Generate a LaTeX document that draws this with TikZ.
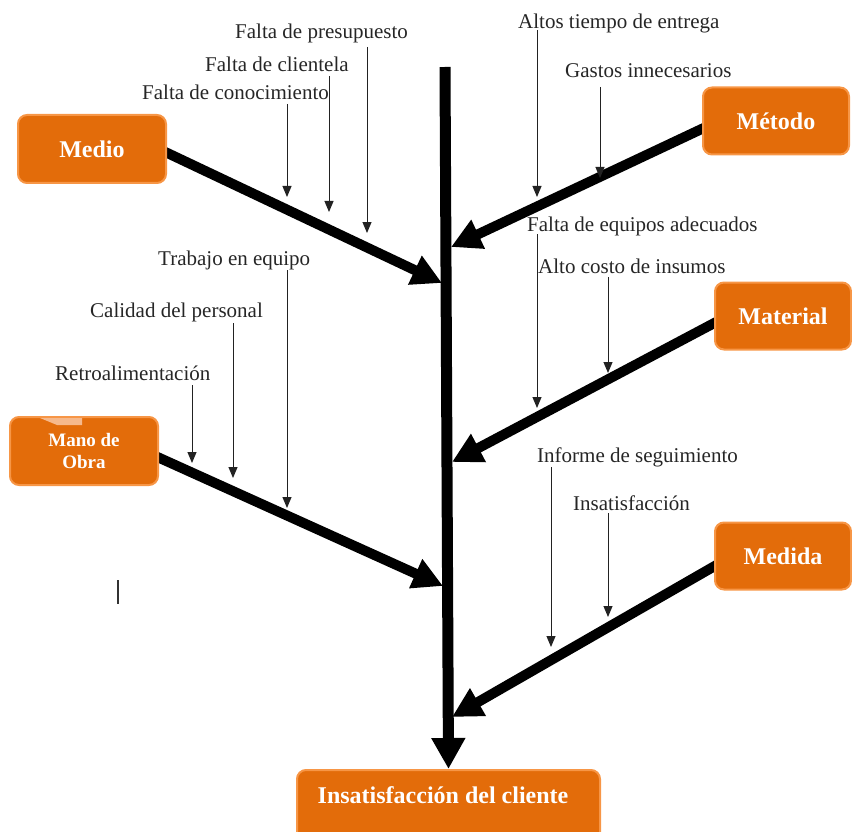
\documentclass[tikz,border=0pt]{standalone}
\usepackage{fontspec}
\setmainfont{Liberation Serif}
\usetikzlibrary{arrows.meta,calc}
\definecolor{boxfill}{HTML}{E36C0A}
\definecolor{boxrim}{HTML}{F79646}
\definecolor{tabtint}{HTML}{F6B98C}
\definecolor{thin}{HTML}{222222}
\pgfdeclarelayer{bg}
\pgfsetlayers{bg,main}
\tikzset{
  catbox/.style={draw=boxrim, line width=2pt, fill=boxfill, rounded corners=9pt,
    text=white, font=\fontsize{24}{28}\selectfont\bfseries, inner sep=0pt},
  cause/.style={anchor=base west, inner sep=0pt, font=\fontsize{21}{25}\selectfont, text=black!85},
  branch/.style={line width=10pt, -{Triangle[length=30pt,width=30pt]}},
  spine/.style={line width=11pt, -{Triangle[length=31pt,width=32pt]}},
  subarrow/.style={draw=thin, line width=1pt, -{Triangle[length=11pt,width=9pt]}}
}
\begin{document}
\begin{tikzpicture}[x=1pt,y=-1pt]
\useasboundingbox (0,0) rectangle (852,832);
\clip (0,0) rectangle (852,832);

% category boxes
\node[catbox, minimum width=148pt, minimum height=68pt] (medio) at (92,149) {Medio};
\node[catbox, minimum width=146pt, minimum height=67pt] (metodo) at (776,121) {Método};
\node[catbox, minimum width=136pt, minimum height=67pt] (material) at (783,316) {Material};
\node[catbox, minimum width=136pt, minimum height=67pt] (medida) at (783,556) {Medida};
\node[catbox, minimum width=148pt, minimum height=68pt, align=center,
      font=\fontsize{19}{22}\selectfont\bfseries] (mano) at (84,451) {Mano de\\Obra};
\fill[tabtint] (40,418) -- (82,418) -- (82,425) -- (57,425) -- cycle;

% effect box
\node[catbox, minimum width=303pt, minimum height=72pt] (efecto) at (448.5,806) {};
\node[anchor=base, inner sep=0pt, text=white, font=\fontsize{24}{28}\selectfont\bfseries]
  (efectotxt) at (443,803) {Insatisfacción del cliente};

% spine and branch ends
\coordinate (top) at (445,67);
\coordinate (tipMedio) at (442,283);
\coordinate (tipMetodo) at (451,247);
\coordinate (tipMaterial) at (452,462);
\coordinate (tipMano) at (443,586);
\coordinate (tipMedida) at (452,717);

\begin{pgfonlayer}{bg}
  \draw[spine] (top) -- (efecto.north);
  \draw[branch] ($(medio.east)+(-6,1)$) -- (tipMedio);
  \draw[branch] ($(metodo.west)+(6,5)$) -- (tipMetodo);
  \draw[branch] ($(material.west)+(6,4)$) -- (tipMaterial);
  \draw[branch] ($(mano.east)+(-6,4)$) -- (tipMano);
  \draw[branch] ($(medida.west)+(6,7)$) -- (tipMedida);
\end{pgfonlayer}

% causes: Medio
\node[cause] (c1) at (235,39) {Falta de presupuesto};
\node[cause] (c2) at (205,72) {Falta de clientela};
\node[cause] (c3) at (142,100) {Falta de conocimiento};
\coordinate (c1a) at (367,47);  \coordinate (c1b) at (367,233);
\coordinate (c2a) at (329,76);  \coordinate (c2b) at (329,212);
\coordinate (c3a) at (287,104); \coordinate (c3b) at (287,197);
\draw[subarrow] (c1a) -- (c1b);
\draw[subarrow] (c2a) -- (c2b);
\draw[subarrow] (c3a) -- (c3b);

% causes: Método
\node[cause] (c4) at (518,29) {Altos tiempo de entrega};
\node[cause] (c5) at (565,78) {Gastos innecesarios};
\coordinate (c4a) at (537,30);  \coordinate (c4b) at (537,197);
\coordinate (c5a) at (600,87);  \coordinate (c5b) at (600,178);
\draw[subarrow] (c4a) -- (c4b);
\draw[subarrow] (c5a) -- (c5b);

% causes: Material
\node[cause] (c6) at (527,232) {Falta de equipos adecuados};
\node[cause] (c7) at (538,273) {Alto costo de insumos};
\coordinate (c6a) at (537,234); \coordinate (c6b) at (537,408);
\coordinate (c7a) at (608,277); \coordinate (c7b) at (608,373);
\draw[subarrow] (c6a) -- (c6b);
\draw[subarrow] (c7a) -- (c7b);

% causes: Mano de Obra
\node[cause] (c8) at (158,265) {Trabajo en equipo};
\node[cause] (c9) at (90,317) {Calidad del personal};
\node[cause] (c10) at (55,380) {Retroalimentación};
\coordinate (c8a) at (287,270);  \coordinate (c8b) at (287,508);
\coordinate (c9a) at (233,323);  \coordinate (c9b) at (233,478);
\coordinate (c10a) at (192,385); \coordinate (c10b) at (192,463);
\draw[subarrow] (c8a) -- (c8b);
\draw[subarrow] (c9a) -- (c9b);
\draw[subarrow] (c10a) -- (c10b);

% causes: Medida
\node[cause] (c11) at (537,462) {Informe de seguimiento};
\node[cause] (c12) at (573,510) {Insatisfacción};
\coordinate (c11a) at (551,467); \coordinate (c11b) at (551,647);
\coordinate (c12a) at (608,513); \coordinate (c12b) at (608,617);
\draw[subarrow] (c11a) -- (c11b);
\draw[subarrow] (c12a) -- (c12b);

% stray text cursor mark
\coordinate (barA) at (118,580);
\coordinate (barB) at (118,604);
\draw[line width=2pt, black!80] (barA) -- (barB);
\end{tikzpicture}
\end{document}
